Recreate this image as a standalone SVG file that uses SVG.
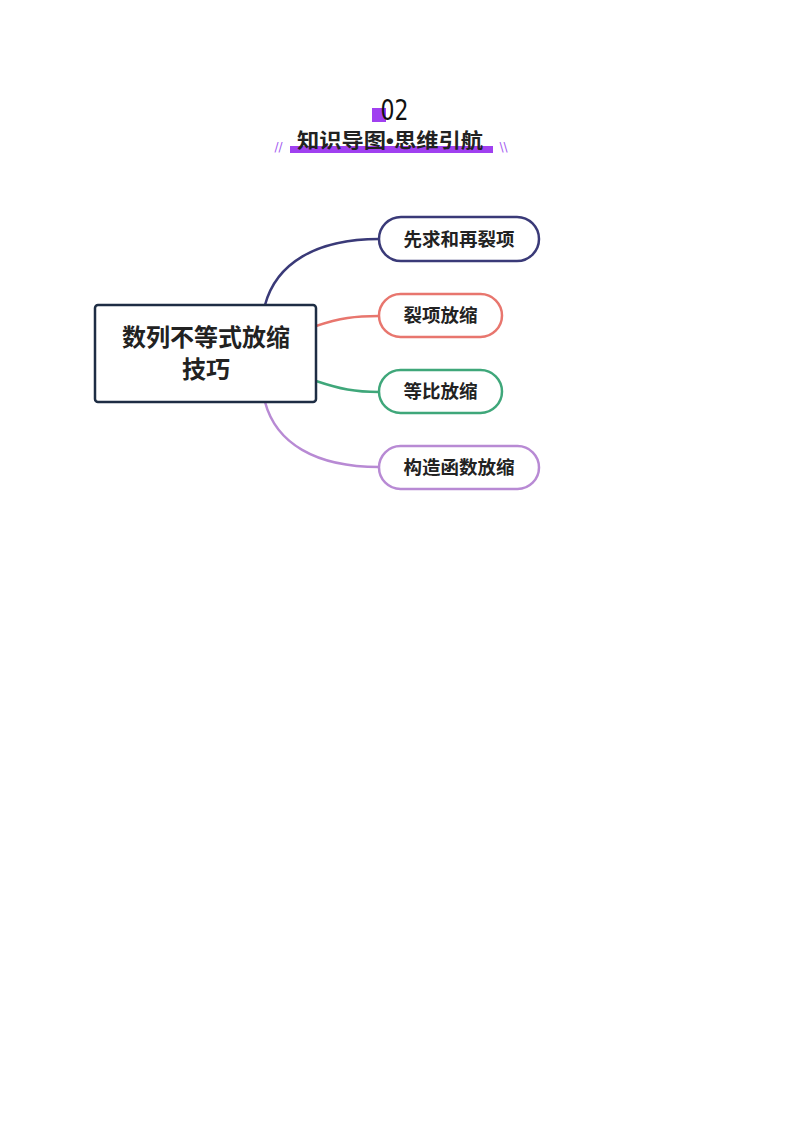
<svg xmlns="http://www.w3.org/2000/svg" width="794" height="1123" viewBox="0 0 794 1123">
<style>
.cjk{font-family:"Noto Sans CJK SC","Noto Sans",sans-serif;font-weight:bold;fill:#222;text-anchor:middle}
.topic{fill:#fff;stroke-width:2.5}
.conn{fill:none;stroke-width:2.5}
</style>
<rect width="794" height="1123" fill="#fff"/>
<g id="header">
<rect x="372" y="108" width="14" height="14" fill="#a040f0"/>
<text x="394.5" y="120" font-family="DejaVu Sans, sans-serif" font-size="28" font-weight="normal" fill="#111" text-anchor="middle" textLength="28" lengthAdjust="spacingAndGlyphs">02</text>
<rect x="290" y="146" width="203" height="7" fill="#a040f0"/>
<text x="390" y="148" class="cjk" font-size="20" font-weight="900" fill="#111" textLength="186" lengthAdjust="spacingAndGlyphs">知识导图<tspan font-family="Liberation Sans, sans-serif">•</tspan>思维引航</text>
<text x="278.5" y="151" font-family="DejaVu Sans, sans-serif" font-size="12" fill="#a35cf0" text-anchor="middle">//</text>
<text x="503.5" y="151" font-family="DejaVu Sans, sans-serif" font-size="12" fill="#a35cf0" text-anchor="middle">\\</text>
</g>
<g id="connectors">
<path class="conn" stroke="#3a3a78" d="M265,305 C276,264 315,239 379,239"/>
<path class="conn" stroke="#e8766e" d="M316,326 C340,318 355,316 379,316"/>
<path class="conn" stroke="#3fa77a" d="M316,381 C340,389 355,392 379,392"/>
<path class="conn" stroke="#b88ad4" d="M265,402 C276,443 315,467 379,467"/>
</g>
<g id="root">
<rect x="95" y="305" width="221" height="97" rx="3" fill="#fff" stroke="#1e2d44" stroke-width="2.5"/>
<text x="206" y="346" class="cjk" font-size="24">数列不等式放缩</text>
<text x="206" y="378" class="cjk" font-size="24">技巧</text>
</g>
<g id="n1">
<rect class="topic" x="379" y="217" width="160" height="44" rx="22" stroke="#3a3a78"/>
<text x="459" y="246" class="cjk" font-size="18.5">先求和再裂项</text>
</g>
<g id="n2">
<rect class="topic" x="379" y="294" width="123" height="43" rx="21.5" stroke="#e8766e"/>
<text x="440.5" y="322" class="cjk" font-size="18.5">裂项放缩</text>
</g>
<g id="n3">
<rect class="topic" x="379" y="370" width="123" height="43" rx="21.5" stroke="#3fa77a"/>
<text x="440.5" y="398" class="cjk" font-size="18.5">等比放缩</text>
</g>
<g id="n4">
<rect class="topic" x="379" y="446" width="160" height="43" rx="21.5" stroke="#b88ad4"/>
<text x="459" y="474" class="cjk" font-size="18.5">构造函数放缩</text>
</g>
</svg>
